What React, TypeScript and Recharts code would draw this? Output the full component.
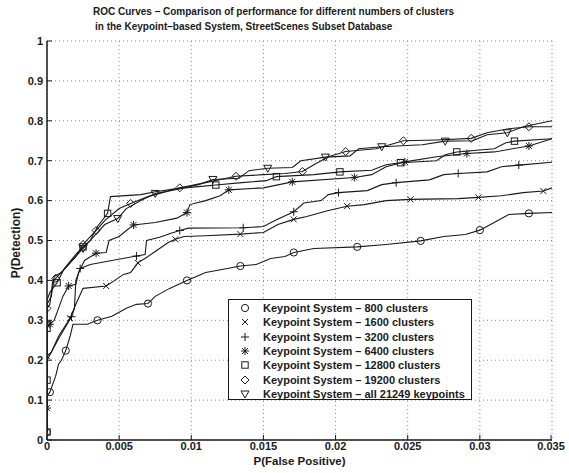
import React from 'react';
import { CartesianGrid, Label, Legend, Line, LineChart, XAxis, YAxis } from 'recharts';

// [P(False Positive), P(Detection), marker?]
type Pt = [number, number, number?];

const xTicks = [0, 0.005, 0.01, 0.015, 0.02, 0.025, 0.03, 0.035];
const yTicks = [0, 0.1, 0.2, 0.3, 0.4, 0.5, 0.6, 0.7, 0.8, 0.9, 1];

const seriesNames = [
    'Keypoint System – 800 clusters',
    'Keypoint System – 1600 clusters',
    'Keypoint System – 3200 clusters',
    'Keypoint System – 6400 clusters',
    'Keypoint System – 12800 clusters',
    'Keypoint System – 19200 clusters',
    'Keypoint System – all 21249 keypoints',
];
const seriesShapes = ['circle', 'x', 'plus', 'star', 'square', 'diamond', 'triangle'];

const c800: Pt[] = [
    [0, 0.01], [0, 0.11], [0.0002, 0.12, 1], [0.0004, 0.14], [0.0006, 0.16], [0.0008, 0.19],
    [0.001, 0.2], [0.0013, 0.224, 1], [0.0016, 0.26], [0.0018, 0.29], [0.0028, 0.29],
    [0.0035, 0.3, 1], [0.0045, 0.31], [0.0055, 0.33], [0.0062, 0.34], [0.007, 0.342, 1],
    [0.0075, 0.36], [0.0085, 0.38], [0.0097, 0.4, 1], [0.011, 0.42], [0.0125, 0.43],
    [0.0134, 0.436, 1], [0.0145, 0.44], [0.0155, 0.455], [0.0165, 0.46], [0.0171, 0.47, 1],
    [0.0185, 0.48], [0.0215, 0.484, 1], [0.0235, 0.49], [0.0259, 0.499, 1], [0.0275, 0.51],
    [0.029, 0.515], [0.03, 0.526, 1], [0.031, 0.545], [0.032, 0.565], [0.0334, 0.568, 1],
    [0.035, 0.57],
];
const c1600: Pt[] = [
    [0, 0.02], [0, 0.21, 1], [0.0003, 0.22], [0.0008, 0.26], [0.0016, 0.305, 1], [0.002, 0.34],
    [0.0025, 0.38], [0.0041, 0.386, 1], [0.0047, 0.4], [0.0053, 0.415], [0.0058, 0.42],
    [0.0063, 0.444, 1], [0.007, 0.46], [0.0078, 0.48], [0.0084, 0.495], [0.0089, 0.503, 1],
    [0.0095, 0.51], [0.011, 0.512], [0.0134, 0.516, 1], [0.015, 0.52], [0.0155, 0.53],
    [0.016, 0.54], [0.0171, 0.553, 1], [0.018, 0.56], [0.0195, 0.575], [0.0208, 0.586, 1],
    [0.022, 0.59], [0.0235, 0.6], [0.0252, 0.603, 1], [0.0285, 0.605], [0.0299, 0.608, 1],
    [0.0315, 0.612], [0.033, 0.62], [0.0344, 0.624, 1], [0.035, 0.632],
];
const c3200: Pt[] = [
    [0, 0.02], [0, 0.2], [0.0003, 0.22], [0.0009, 0.26], [0.0017, 0.309, 1], [0.0019, 0.33],
    [0.002, 0.4], [0.0023, 0.43, 1], [0.003, 0.44], [0.0045, 0.45], [0.0062, 0.461, 1],
    [0.0068, 0.465], [0.0069, 0.5], [0.0078, 0.508], [0.0086, 0.518], [0.0092, 0.525, 1],
    [0.0098, 0.531], [0.0136, 0.532, 1], [0.015, 0.535], [0.0158, 0.55], [0.0171, 0.572, 1],
    [0.0178, 0.594], [0.019, 0.6], [0.0195, 0.615], [0.0202, 0.62, 1], [0.0222, 0.625],
    [0.0232, 0.64], [0.0242, 0.645, 1], [0.0265, 0.652], [0.0275, 0.665], [0.0285, 0.668, 1],
    [0.0305, 0.672], [0.0315, 0.685], [0.0327, 0.689, 1], [0.035, 0.696],
];
const c6400: Pt[] = [
    [0, 0.02], [0, 0.08, 1], [0, 0.28], [0.0002, 0.29, 1], [0.0005, 0.3], [0.0008, 0.33],
    [0.0011, 0.36], [0.0015, 0.386, 1], [0.002, 0.39], [0.0022, 0.42], [0.0026, 0.45],
    [0.0034, 0.468, 1], [0.0041, 0.47], [0.0043, 0.5], [0.005, 0.51], [0.0055, 0.525],
    [0.006, 0.539, 1], [0.0075, 0.545], [0.009, 0.556], [0.0097, 0.57, 1], [0.0099, 0.59],
    [0.011, 0.6], [0.012, 0.612], [0.0126, 0.627, 1], [0.015, 0.632], [0.017, 0.647, 1],
    [0.0213, 0.658, 1], [0.0225, 0.665], [0.0235, 0.685], [0.0248, 0.697, 1], [0.027, 0.71],
    [0.0291, 0.718, 1], [0.031, 0.722], [0.0334, 0.737, 1], [0.035, 0.755],
];
const c12800: Pt[] = [
    [0, 0.02, 1], [0, 0.15, 1], [0, 0.28, 1], [0, 0.35], [0.0002, 0.37], [0.0007, 0.394, 1],
    [0.0012, 0.43], [0.002, 0.465], [0.0025, 0.484, 1], [0.003, 0.5], [0.0035, 0.535],
    [0.0042, 0.568, 1], [0.0044, 0.61], [0.0065, 0.615], [0.0075, 0.622], [0.009, 0.63],
    [0.0105, 0.635], [0.0117, 0.639, 1], [0.0135, 0.645], [0.0152, 0.65], [0.0159, 0.66, 1],
    [0.0185, 0.665], [0.0203, 0.672, 1], [0.0225, 0.676], [0.0235, 0.69], [0.0245, 0.695, 1],
    [0.027, 0.7], [0.0276, 0.715], [0.0284, 0.722, 1], [0.031, 0.73], [0.0318, 0.745],
    [0.0324, 0.749, 1], [0.035, 0.755],
];
const c19200: Pt[] = [
    [0, 0.02, 1], [0, 0.33, 1], [0.0002, 0.34], [0.0004, 0.4], [0.0006, 0.405, 1], [0.001, 0.42],
    [0.0015, 0.44], [0.002, 0.46], [0.0025, 0.49, 1], [0.003, 0.51], [0.0034, 0.525, 1],
    [0.004, 0.55], [0.005, 0.58], [0.0058, 0.593, 1], [0.007, 0.61], [0.008, 0.62],
    [0.0092, 0.632, 1], [0.011, 0.645], [0.0131, 0.661, 1], [0.015, 0.665], [0.0165, 0.668],
    [0.0177, 0.673, 1], [0.0185, 0.69], [0.0195, 0.71], [0.0207, 0.723, 1], [0.0228, 0.73],
    [0.0247, 0.75, 1], [0.027, 0.752], [0.0294, 0.756, 1], [0.0305, 0.77], [0.032, 0.78],
    [0.0334, 0.785, 1], [0.035, 0.785],
];
const cAll: Pt[] = [
    [0, 0.02], [0, 0.29, 1], [0, 0.34], [0.0003, 0.36], [0.0005, 0.41], [0.001, 0.42],
    [0.0015, 0.44], [0.002, 0.46], [0.0025, 0.48, 1], [0.003, 0.5], [0.004, 0.54],
    [0.0049, 0.555, 1], [0.0055, 0.58], [0.0065, 0.6], [0.0075, 0.618, 1], [0.009, 0.628],
    [0.0105, 0.64], [0.0115, 0.653, 1], [0.0133, 0.656], [0.014, 0.675], [0.0153, 0.681, 1],
    [0.017, 0.683], [0.0176, 0.7], [0.0193, 0.709, 1], [0.021, 0.712], [0.0216, 0.73],
    [0.0232, 0.735, 1], [0.026, 0.74], [0.0276, 0.749, 1], [0.0295, 0.75], [0.0305, 0.765],
    [0.0319, 0.77, 1], [0.033, 0.785], [0.035, 0.8],
];

const seriesPoints = [c800, c1600, c3200, c6400, c12800, c19200, cAll];

const INK = '#1a1a1a';
const FONT = '"Liberation Sans", Arial, sans-serif';

function Marker({ shape, cx, cy }: { shape: string; cx: number; cy: number }) {
    const s = { fill: 'none', stroke: INK, strokeWidth: 1 };
    switch (shape) {
        case 'circle':
            return <circle cx={cx} cy={cy} r={3.6} {...s} />;
        case 'x':
            return <path d={`M${cx - 3},${cy - 3}L${cx + 3},${cy + 3}M${cx - 3},${cy + 3}L${cx + 3},${cy - 3}`} {...s} />;
        case 'plus':
            return <path d={`M${cx - 4},${cy}L${cx + 4},${cy}M${cx},${cy - 4}L${cx},${cy + 4}`} {...s} />;
        case 'star':
            return (
                <path
                    d={`M${cx - 4},${cy}L${cx + 4},${cy}M${cx},${cy - 4}L${cx},${cy + 4}M${cx - 3},${cy - 3}L${cx + 3},${cy + 3}M${cx - 3},${cy + 3}L${cx + 3},${cy - 3}`}
                    {...s}
                />
            );
        case 'square':
            return <rect x={cx - 3.2} y={cy - 3.2} width={6.4} height={6.4} {...s} />;
        case 'diamond':
            return <path d={`M${cx},${cy - 4}L${cx + 4},${cy}L${cx},${cy + 4}L${cx - 4},${cy}Z`} {...s} />;
        default:
            return <path d={`M${cx - 4},${cy - 3}L${cx + 4},${cy - 3}L${cx},${cy + 4}Z`} {...s} />;
    }
}

const tickText = { fontFamily: FONT, fontSize: 11, fontWeight: 700, fill: INK };

function YTick(props: any) {
    const { x, y, payload } = props;
    return (
        <g>
            <text x={x} y={y} dy="0.35em" textAnchor="end" {...tickText}>
                {String(payload.value)}
            </text>
            <line x1={x + 4} x2={x + 9} y1={y} y2={y} stroke={INK} strokeWidth={1} />
        </g>
    );
}

function XTick(props: any) {
    const { x, y, payload } = props;
    return (
        <g>
            <text x={x} y={y} dy="0.71em" textAnchor="middle" {...tickText}>
                {String(payload.value)}
            </text>
            <line x1={x} x2={x} y1={y - 2} y2={y - 7} stroke={INK} strokeWidth={1} />
        </g>
    );
}

function LegendBox() {
    return (
        <div
            style={{
                width: 244,
                height: 101,
                border: `1px solid ${INK}`,
                background: '#fff',
                boxSizing: 'border-box',
                paddingTop: 1,
                fontFamily: FONT,
                fontSize: 11,
                fontWeight: 700,
                color: INK,
            }}
        >
            {seriesNames.map((name, i) => (
                <div key={name} style={{ display: 'flex', alignItems: 'center', height: 14.3 }}>
                    <svg width={34} height={14} style={{ flex: 'none' }}>
                        <Marker shape={seriesShapes[i]} cx={16} cy={7} />
                    </svg>
                    <span style={{ whiteSpace: 'nowrap' }}>{name}</span>
                </div>
            ))}
        </div>
    );
}

export default function App() {
    const series = seriesPoints.map((pts, i) => ({
        name: seriesNames[i],
        shape: seriesShapes[i],
        data: pts.map(([x, y, m]) => ({ x, y, m: !!m })),
    }));

    return (
        <div
            style={{
                position: 'absolute',
                left: 0,
                top: 0,
                width: 569,
                height: 473,
                overflow: 'hidden',
                background: '#fff',
            }}
        >
            <div
                style={{
                    position: 'absolute',
                    left: 93,
                    top: 4,
                    fontFamily: FONT,
                    fontSize: 10,
                    fontWeight: 700,
                    lineHeight: '15px',
                    color: INK,
                    whiteSpace: 'nowrap',
                }}
            >
                <div>ROC Curves – Comparison of performance for different numbers of clusters</div>
                <div style={{ paddingLeft: 2 }}>in the Keypoint–based System, StreetScenes Subset Database</div>
            </div>
            <LineChart width={569} height={473} margin={{ top: 41, right: 17, bottom: 0, left: 0 }}>
                <CartesianGrid stroke="#8a8a8a" strokeDasharray="1 3" strokeWidth={1} />
                <XAxis
                    type="number"
                    dataKey="x"
                    domain={[0, 0.035]}
                    ticks={xTicks}
                    allowDataOverflow
                    height={33}
                    tickSize={2}
                    tickMargin={0}
                    tickLine={false}
                    tick={<XTick />}
                    axisLine={{ stroke: INK, strokeWidth: 1.5 }}
                >
                    <Label
                        value="P(False Positive)"
                        position="insideBottom"
                        offset={8}
                        style={{ fontFamily: FONT, fontSize: 11.5, fontWeight: 700, fill: INK }}
                    />
                </XAxis>
                <YAxis
                    type="number"
                    dataKey="y"
                    domain={[0, 1]}
                    ticks={yTicks}
                    allowDataOverflow
                    width={47}
                    tickSize={4}
                    tickMargin={0}
                    tickLine={false}
                    tick={<YTick />}
                    axisLine={{ stroke: INK, strokeWidth: 1.5 }}
                >
                    <Label
                        content={() => (
                            <text
                                x={20}
                                y={243}
                                transform="rotate(-90 20 243)"
                                textAnchor="middle"
                                style={{ fontFamily: FONT, fontSize: 12, fontWeight: 700, fill: INK }}
                            >
                                P(Detection)
                            </text>
                        )}
                    />
                </YAxis>
                {series.map((s, i) => (
                    <Line
                        key={s.name}
                        data={s.data}
                        dataKey="y"
                        name={s.name}
                        type="linear"
                        stroke={INK}
                        strokeWidth={1.1}
                        activeDot={false}
                        isAnimationActive={false}
                        dot={(p: any) =>
                            p.payload.m ? (
                                <g key={`d${i}-${p.index}`}>
                                    <Marker shape={s.shape} cx={p.cx} cy={p.cy} />
                                </g>
                            ) : (
                                <g key={`d${i}-${p.index}`} />
                            )
                        }
                    />
                ))}
                <Legend
                    layout="vertical"
                    align="center"
                    verticalAlign="middle"
                    content={() => <LegendBox />}
                    wrapperStyle={{ left: 228, top: 299, width: 'auto' }}
                />
            </LineChart>
        </div>
    );
}
